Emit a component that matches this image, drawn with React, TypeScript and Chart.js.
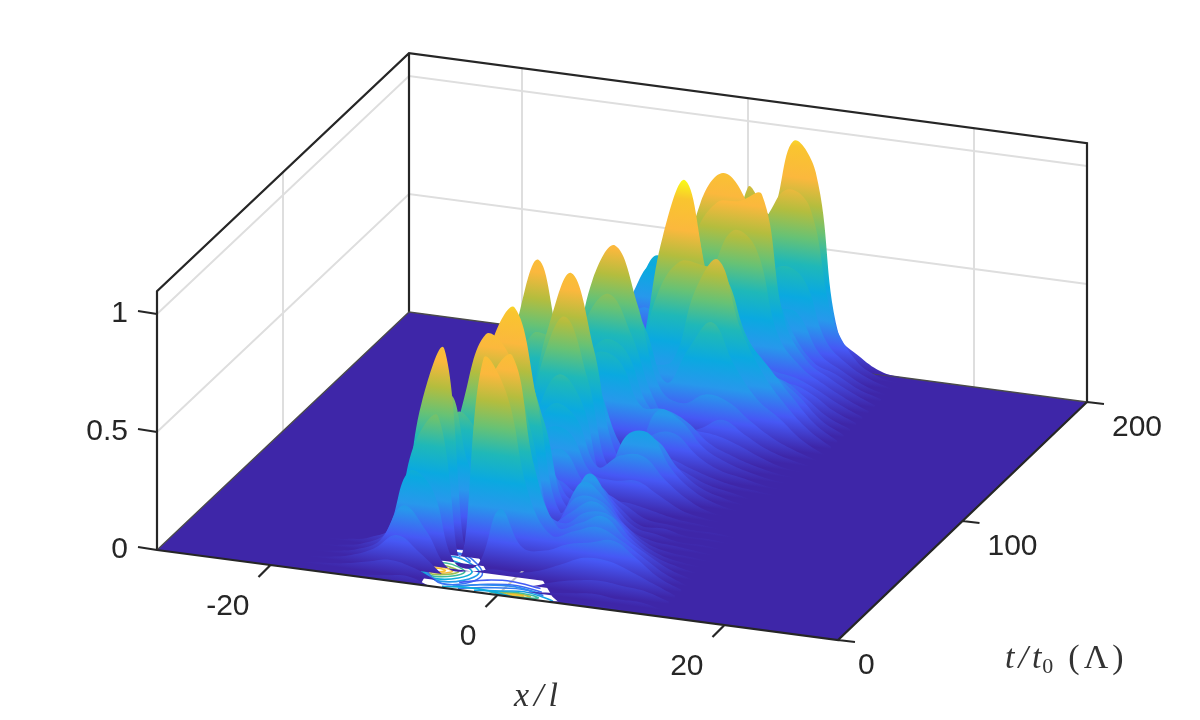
import React, { useEffect, useRef } from "react";
import { Chart, registerables } from "chart.js";
Chart.register(...registerables);

const xValues = [-18, -16, -14, -12, -10, -8, -6, -4, -2, 0, 2, 4, 6, 8, 10, 12, 14];
const tValues = [0,5,10,15,20,25,30,35,40,45,50,55,60,65,70,75,80,85,90,95,100,105,110,115,120,125,130,135,140,145,150,155,160,165,170,175,180,185,190,195,200];
const heights = [
[0,0,0,.01,.02,.03,0,0,0,0,0,0,.01,.01,.01,0,0],
[0,.01,.02,.04,.06,.04,0,0,0,0,0,.01,.02,.03,.02,.02,0],
[0,.01,.03,.07,.14,.08,0,0,0,0,0,.03,.05,.06,.05,.04,.01],
[0,.01,.03,.08,.24,.15,0,0,.02,.02,.04,.08,.12,.12,.09,.05,.01],
[0,.01,.03,.09,.36,.30,0,0,.25,.10,.10,.14,.16,.18,.12,.05,.01],
[0,.01,.03,.09,.46,.58,0,.85,.72,.30,.14,.17,.20,.16,.10,.04,0],
[0,0,.01,.08,.60,.84,0,.72,.85,.38,.15,.18,.22,.14,.08,.03,0],
[0,0,0,.04,.34,.62,.30,.36,.40,.20,.14,.20,.20,.11,.05,.02,0],
[0,0,0,.02,.22,.52,.44,.26,.22,.10,.16,.22,.16,.08,.03,.01,0],
[0,0,0,.01,.12,.54,.84,.77,.45,.08,.20,.20,.12,.05,.02,.01,0],
[0,0,0,.01,.06,.26,.78,.94,.55,.10,.24,.18,.07,.03,.02,.01,0],
[0,0,0,0,.03,.16,.50,.66,.45,.10,.25,.14,.05,.03,.01,.01,0],
[0,0,0,0,.01,.06,.18,.26,.22,.10,.18,.10,.03,.03,.01,.01,0],
[0,0,0,0,0,.01,.06,.10,.15,.10,.12,.08,.03,.02,.01,.01,0],
[0,0,0,0,0,0,.06,.20,.25,.12,.07,.06,.04,.02,.01,0,0],
[0,0,0,0,0,0,.12,.30,.30,.14,.12,.13,.08,.03,.01,0,0],
[0,0,0,0,0,.03,.20,.38,.34,.14,.20,.21,.12,.05,.01,0,0],
[0,0,0,0,0,.05,.30,.48,.38,.06,.26,.28,.14,.06,.02,0,0],
[0,0,0,0,.01,.10,.50,.70,.45,.08,.22,.23,.12,.05,.02,0,0],
[0,0,0,.02,.09,.25,.62,.86,.55,.12,.12,.12,.08,.04,.02,0,0],
[0,0,.01,.06,.31,.55,.55,.55,.35,.12,.08,.10,.07,.04,.02,.01,0],
[0,0,.01,.11,.54,.84,.47,.24,.10,.05,.16,.18,.10,.05,.03,.01,0],
[0,0,.01,.09,.43,.65,.30,.10,.05,.05,.24,.21,.11,.06,.03,.01,0],
[0,0,0,.03,.15,.25,.25,.42,.40,.22,.22,.18,.10,.06,.03,.01,0],
[0,0,0,0,.04,.10,.30,.45,.42,.20,.14,.12,.11,.08,.04,.01,0],
[0,0,0,0,.02,.16,.50,.62,.46,.20,.08,.10,.15,.10,.05,.02,0],
[0,0,0,0,.02,.21,.64,.80,.56,.22,.17,.22,.20,.13,.07,.03,0],
[0,0,0,0,.02,.16,.47,.60,.45,.22,.38,.50,.33,.20,.13,.05,0],
[0,0,0,0,.01,.06,.19,.27,.26,.29,.60,.74,.46,.28,.16,.07,.01],
[0,0,0,0,0,.01,.05,.16,.52,.68,.68,.65,.40,.28,.17,.07,.01],
[0,0,0,0,0,0,.03,.25,.75,1.0,.60,.36,.28,.22,.15,.06,.01],
[0,0,0,0,0,0,.02,.14,.62,.82,.38,.16,.18,.18,.12,.05,.01],
[0,0,0,0,0,0,0,.05,.22,.30,.16,.10,.12,.14,.11,.05,.01],
[0,0,0,0,0,0,0,.02,.10,.16,.22,.22,.16,.14,.10,.05,.01],
[0,0,0,0,0,0,.03,.12,.32,.50,.70,.64,.28,.16,.10,.05,.01],
[0,0,0,0,0,0,.04,.22,.62,.78,.80,.84,.32,.16,.10,.05,.01],
[0,0,0,0,0,.01,.06,.32,.74,.88,.78,.50,.26,.13,.09,.04,.01],
[0,0,0,.01,.04,.07,.08,.14,.40,.55,.45,.32,.30,.14,.08,.03,0],
[0,0,0,.02,.12,.21,.12,.05,.10,.26,.34,.46,.42,.17,.08,.03,0],
[0,0,.01,.03,.20,.36,.20,.05,.14,.52,.62,.76,.70,.25,.08,.02,0],
[0,0,.01,.03,.21,.38,.21,.05,.18,.72,.62,.94,.82,.15,.06,.01,0],
];

const xTicks = [-20, 0, 20];
const tTicks = [0, 100, 200];
const zTicks = [0, 0.5, 1];
const zTickLabels = ["0", "0.5", "1"];

// white opening in the floor, as (x, t)
const holeTop = [[-6.8,0],[-8.3,31],[-6,34],[-2.7,16],[1.6,19],[4.4,4],[5.5,0]];
const holeBottom = [[-6.8,0],[5.5,0]];
// contour lines under the surface: level, then (x, t) vertices
const contourLevels = [0.88,0.78,0.64,0.5,0.36,0.25,0.16,0.88,0.7,0.5,0.3,0.18,0.14,0.12,0.2,0.35,0.12,0.16];
const contourPaths = [
 [[-7.3,12.6],[-6.7,14],[-6,12.8],[-6.7,11.2],[-7.3,12.6]],
 [[-7.9,12.6],[-6.7,15.2],[-5.4,13],[-6.7,10.2],[-7.9,12.6]],
 [[-8.3,12.6],[-6.7,16.6],[-4.9,13.2],[-6.7,9],[-8.3,12.6]],
 [[-8.6,13],[-6.6,18.6],[-4.4,13.6],[-6.4,7.6],[-8.6,13]],
 [[-9,14],[-6.6,21],[-3.8,14],[-6,6],[-9,14]],
 [[-9,16],[-6.4,24],[-3.2,14],[-5.6,4.6],[-9,16]],
 [[-9,18],[-6.2,27],[-2.8,13],[-5.2,3],[-9,18]],
 [[0.6,1.7],[1.3,2.4],[2.1,1.7],[1.3,1],[0.6,1.7]],
 [[0,1.8],[1.3,3],[2.7,1.8],[1.3,0.5],[0,1.8]],
 [[-0.9,1.6],[1.3,3.8],[3.4,1.8],[1.3,0.2],[-0.9,1.6]],
 [[-2.2,1.2],[0,3.4],[1.8,5],[4,2.4],[4.8,0.8]],
 [[-3.6,1],[-1.4,4.4],[1.4,6.6],[3.6,4]],
 [[-3.6,3],[-1.6,7],[0.8,8.8],[3.2,6.4]],
 [[-4,5.6],[-2,10],[0,11.4],[2.8,9]],
 [[-4.2,2.2],[-2.2,5.8],[0.6,7.8],[3.4,5]],
 [[-5,1],[-3,2.6],[-1,2.2],[1,0.4]],
 [[-7.2,28],[-6.8,30],[-5.4,30.4]],
 [[-7.6,24],[-6,26],[-4.8,22]],
];

const parula: [number, string][] = [
  [0, "#3e26a8"], [0.1125, "#4658f5"], [0.225, "#2798ec"], [0.3375, "#0aa9e0"],
  [0.45, "#1fb8b8"], [0.5625, "#68c274"], [0.675, "#b4bd3e"], [0.7875, "#fbb83d"], [0.92, "#f9c52f"], [1, "#f9fb15"],
];

function hexMix(v: number) {
  let i = 0;
  while (i < parula.length - 2 && v > parula[i + 1][0]) i++;
  const [a, ca] = parula[i];
  const [b, cb] = parula[i + 1];
  const f = Math.min(1, Math.max(0, (v - a) / (b - a)));
  const ch = (c: string, k: number) => parseInt(c.slice(k, k + 2), 16);
  const m = (k: number) => Math.round(ch(ca, k) + (ch(cb, k) - ch(ca, k)) * f);
  return `rgb(${m(1)},${m(3)},${m(5)})`;
}

const proj = (x: number, t: number, z = 0) => ({
  x: 157 + (x + 30) * 11.35 + t * (1.26 - ((x + 30) / 60) * 0.015),
  y: 550 + (x + 30) * 1.5 - t * 1.19 - z * 236,
});
const gap = { x: 0, y: null as any };
const segs = (list: any[][]) => list.flatMap((s) => [...s, gap]);

const textPlugin = {
  id: "axisText",
  afterDraw(chart: any) {
    const c = chart.ctx;
    c.save();
    c.fillStyle = "#262626";
    c.font = '30px "Liberation Sans"';
    c.textBaseline = "middle";
    c.textAlign = "right";
    xTicks.forEach((v) => {
      const p = proj(v, 0);
      c.fillText(String(v), p.x - 21, p.y + 42);
    });
    zTicks.forEach((v, i) => {
      const p = proj(-30, 0, v);
      c.fillText(zTickLabels[i], p.x - 29, p.y);
    });
    c.textAlign = "left";
    tTicks.forEach((v) => {
      const p = proj(30, v);
      c.fillText(String(v), p.x + (v === 0 ? 20 : 25), p.y + 26);
    });
    c.fillStyle = "#333";
    c.font = 'italic 34px "Liberation Serif"';
    c.letterSpacing = "5px";
    c.fillText("x/l", 514, 697);
    c.letterSpacing = "4px";
    let px = 1005;
    c.fillText("t/t", px, 659);
    px += c.measureText("t/t").width - 3;
    c.letterSpacing = "0px";
    c.font = '22px "Liberation Serif"';
    c.fillText("0", px, 667);
    px += c.measureText("0").width + 15;
    c.font = '34px "Liberation Serif"';
    c.letterSpacing = "4px";
    c.fillText("(Λ)", px, 659);
    c.restore();
  },
};

export default function App() {
  const ref = useRef<HTMLCanvasElement>(null);
  useEffect(() => {
    const canvas = ref.current!;
    const ctx = canvas.getContext("2d")!;
    const line = (data: any[], o: any = {}) => ({
      data, pointRadius: 0, borderWidth: 0, fill: false, tension: 0, spanGaps: false, ...o,
    });
    const paint: any[] = []; // bottom layer first

    const grid = "#dedede";
    const gridSegs: any[][] = [];
    xTicks.forEach((v) => gridSegs.push([proj(v, 200, 0), proj(v, 200, 1.097)]));
    [100].forEach((v) => gridSegs.push([proj(-30, v, 0), proj(-30, v, 1.097)]));
    [0.5, 1].forEach((v) => {
      gridSegs.push([proj(-30, 0, v), proj(-30, 200, v), proj(30, 200, v)]);
    });
    paint.push(line(segs(gridSegs), { borderColor: grid, borderWidth: 2 }));
    paint.push(line(segs([
      [proj(-30, 0, 0), proj(-30, 0, 1.097), proj(-30, 200, 1.097), proj(30, 200, 1.097), proj(30, 200, 0)],
      [proj(-30, 200, 0), proj(-30, 200, 1.097)],
    ]), { borderColor: "#262626", borderWidth: 2.2 }));

    // floor
    paint.push(line([proj(-30, 0), proj(30, 0), proj(30, 200)]));
    paint.push(line([proj(-30, 0), proj(-30, 200), proj(30, 200)], { fill: "-1", backgroundColor: "#3e26a8" }));
    paint.push(line(segs([[proj(-30, 0), proj(-30, 200), proj(30, 200)]]), { borderColor: "#4a4a4a", borderWidth: 1.3 }));

    // opening and contour lines
    paint.push(line(holeBottom.map(([x, t]) => proj(x, t))));
    paint.push(line(holeTop.map(([x, t]) => proj(x, t)), { fill: "-1", backgroundColor: "#ffffff" }));
    paint.push(line(segs([[proj(0, 0), proj(0, 24)]]), { borderColor: "#c4c4c4", borderWidth: 2 }));
    contourPaths.forEach((path, i) => {
      paint.push(line(path.map(([x, t]) => proj(x, t)), {
        borderColor: hexMix(contourLevels[i]), borderWidth: 1.6, tension: 0.4,
      }));
    });

    // surface: one ribbon per t, from the back to the front
    const zPerp = (236 * 11.35) / Math.hypot(11.35, 1.5);
    const nx = 1.5 / Math.hypot(11.35, 1.5);
    const ny = -11.35 / Math.hypot(11.35, 1.5);
    for (let j = tValues.length - 1; j >= 0; j--) {
      const t = tValues[j];
      const row = heights[j];
      const p0 = proj(-30, t);
      const g = ctx.createLinearGradient(p0.x, p0.y, p0.x + nx * zPerp, p0.y + ny * zPerp);
      parula.forEach(([s, c]) => g.addColorStop(s, c));
      const used = (i: number) => row[i] > 0 || row[i - 1] > 0 || row[i + 1] > 0;
      const base = xValues.map((x, i) => (used(i) ? proj(x, t) : { x: proj(x, t).x, y: null }));
      const top = xValues.map((x, i) => (used(i) ? proj(x, t, row[i]) : { x: proj(x, t).x, y: null }));
      paint.push(line(base));
      paint.push(line(top, { fill: "-1", backgroundColor: g, tension: 0.4 }));
    }

    // front axes and ticks
    const tickSegs: any[][] = [[proj(-30, 0), proj(30, 0), proj(30, 200)]];
    xTicks.forEach((v) => {
      const p = proj(v, 0);
      tickSegs.push([p, { x: p.x - 12, y: p.y + 12 }]);
    });
    tTicks.forEach((v) => {
      const p = proj(30, v);
      tickSegs.push([p, { x: p.x + 17, y: p.y + 2 }]);
    });
    zTicks.forEach((v) => {
      const p = proj(-30, 0, v);
      tickSegs.push([p, { x: p.x - 19, y: p.y - 3 }]);
    });
    paint.push(line(segs(tickSegs), { borderColor: "#262626", borderWidth: 2.2 }));

    const datasets = paint.slice().reverse().map((d) => {
      if (d.fill === "-1") return { ...d, fill: "+1" };
      return d;
    });

    const chart = new Chart(canvas, {
      type: "line",
      data: { datasets },
      plugins: [textPlugin],
      options: {
        animation: false,
        responsive: false,
        devicePixelRatio: 1,
        layout: { padding: 0 },
        plugins: { legend: { display: false }, tooltip: { enabled: false } },
        elements: { line: { capBezierPoints: false } },
        scales: {
          x: { type: "linear", min: 0, max: 1200, display: false },
          y: { type: "linear", min: 0, max: 720, reverse: true, display: false },
        },
      },
    } as any);
    return () => chart.destroy();
  }, []);
  return (
    <div style={{ position: "fixed", left: 0, top: 0, width: 1200, height: 720, background: "#fff" }}>
      <canvas ref={ref} width={1200} height={720} style={{ display: "block" }} />
    </div>
  );
}
